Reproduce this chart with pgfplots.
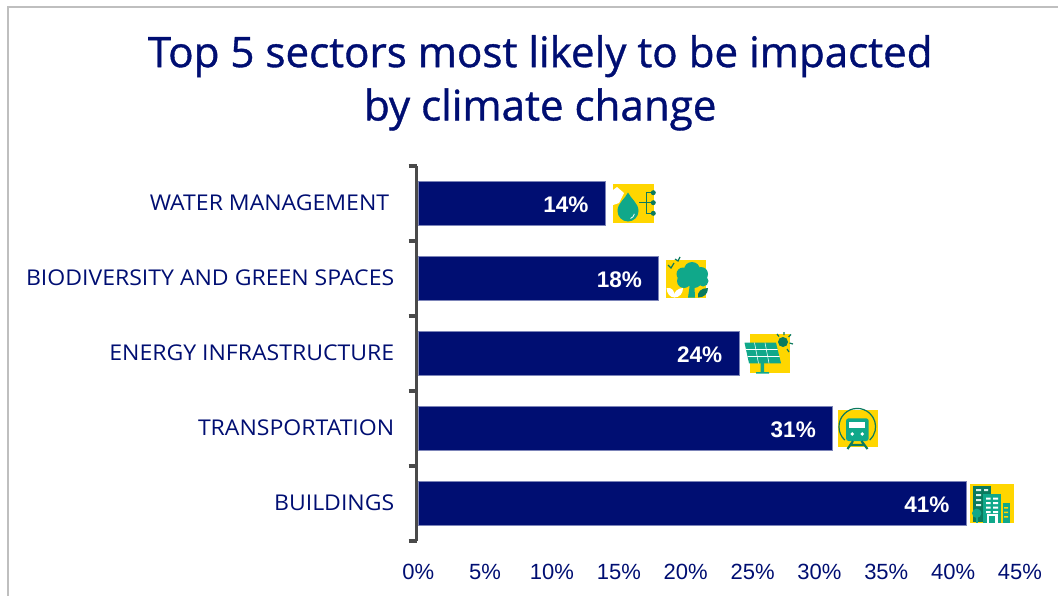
\documentclass[border=0pt]{standalone}
\usepackage{pgfplots}
\usepackage{fontspec}
\pgfplotsset{compat=1.18}
\setmainfont{Open Sans}
\newfontfamily\numfont{Liberation Sans}
\newfontfamily\titlefont[FakeBold=0.9]{Open Sans}
\newfontfamily\namefont[FakeStretch=1.06]{Open Sans}
\definecolor{navy}{HTML}{000E72}
\definecolor{baredge}{HTML}{7C84B8}
\definecolor{axisgray}{HTML}{4A4A4A}
\definecolor{framegray}{HTML}{BFBFBF}
\definecolor{iconyellow}{HTML}{FFD600}
\definecolor{iconteal}{HTML}{10A88A}
\definecolor{icondark}{HTML}{0B7A5E}

\pgfplotstableread{
pos share
1 41
2 31
3 24
4 18
5 14
}\sectors

\begin{document}
\begin{tikzpicture}
% page frame and bounding box, in pixel-sized units with y growing downward
\begin{scope}[x=0.75pt,y=-0.75pt]
  \path[use as bounding box] (0,0) rectangle (1058,596);
  \draw[framegray,line width=1.3pt] (8,596) -- (8,7) -- (1058,7);
\end{scope}

\begin{axis}[
  at={(313.7pt,-405.9pt)},anchor=south west,
  scale only axis,width=451.3pt,height=281.25pt,
  xmin=0,xmax=45,ymin=0.5,ymax=5.5,
  xbar,bar width=33pt,
  axis y line=left,axis x line=bottom,
  axis line style={-},
  x axis line style={draw=none},
  y axis line style={axisgray,line width=2.5pt,xshift=-1.2pt},
  clip=false,
  xtick={0,5,...,45},
  xticklabel={\pgfmathprintnumber{\tick}\%},
  /pgf/number format/assume math mode=true,
  xticklabel style={font=\numfont\fontsize{16.5}{18}\selectfont,text=navy,
    text height=12pt,text depth=0pt,yshift=-7.5pt},
  x tick style={draw=none},
  % tick marks sit on the category boundaries, the names on the bar centres
  ytick={0.5,1.5,2.5,3.5,4.5,5.5},
  yticklabels={},
  y tick style={draw=axisgray,line width=2.6pt,xshift=-1.2pt},
  major tick length=6pt,
  tick align=outside,
  extra y ticks={1,2,3,4,5},
  extra y tick labels={BUILDINGS,TRANSPORTATION,ENERGY INFRASTRUCTURE,BIODIVERSITY AND GREEN SPACES,WATER MANAGEMENT\hspace*{3.8pt}\null},
  extra y tick style={major tick length=0pt,
    yticklabel style={font=\namefont\fontsize{16.3}{18}\selectfont,text=navy,xshift=-14.5pt,yshift=0.8pt}},
  title={Top 5 sectors most likely to be impacted\\by climate change},
  title style={at={(rel axis cs:0.2027,1)},anchor=south,yshift=17.2pt,align=center,
    font=\titlefont\fontsize{31.6}{40}\selectfont,text=navy},
  nodes near coords={\pgfmathprintnumber{\pgfplotspointmeta}\%},
  point meta=x,
  nodes near coords style={anchor=east,xshift=-9pt,yshift=-0.6pt,text=white,
    font=\numfont\bfseries\fontsize{16.9}{18}\selectfont},
]
\addplot[fill=navy,draw=baredge,line width=0.8pt] table[x=share,y=pos]{\sectors};
\end{axis}

% sector pictograms beside the bar ends
\begin{scope}[x=0.75pt,y=-0.75pt]
  % water
  \fill[iconyellow] (613,184) rectangle (654,223);
  \fill[white] (613,190) -- (617,187) -- (624,193) -- (619,203) -- (613,205) -- cycle;
  \fill[iconteal] (628,192.5) .. controls (631,199) and (638.5,203) .. (638.5,211)
     arc[start angle=0,end angle=180,radius=10.5] .. controls (617.5,203) and (625,199) .. cycle;
  \draw[white,line width=0.6pt] (630.5,218.5) arc[start angle=70,end angle=10,radius=6];
  \draw[icondark,line width=1.1pt] (639,202.7) -- (653,202.7) (653,192.7) -- (646.7,192.7) -- (646.7,213.3) -- (653,213.3);
  \fill[icondark] (653.3,192.7) circle (2.5) (653.3,202.7) circle (2.5) (653.3,213.3) circle (2.5);
  % tree
  \fill[iconyellow] (666,260) rectangle (706,297.5);
  \fill[iconteal] (692,270) circle (8) (683,274) circle (6.5) (701,274) circle (7)
     (684,281) circle (7) (694,280) circle (8) (703,281) circle (5.5);
  \fill[iconteal] (689.5,287) -- (694.5,287) -- (695,297.5) -- (688,297.5) -- cycle;
  \fill[white] (666.5,288) .. controls (672,287) and (675,291) .. (675,297.5) .. controls (670,297.5) and (667,294) .. (666.5,288) -- cycle;
  \fill[white] (683,288) .. controls (678,288) and (673,292) .. (674,297.5) .. controls (680,297.5) and (683,293) .. (683,288) -- cycle;
  \fill[icondark] (708,288) .. controls (701,288) and (697,292) .. (698,297.5) .. controls (704,297.5) and (708,294) .. (708,288) -- cycle;
  \draw[icondark,line width=0.9pt] (668,265) -- (671,268) -- (674,263) (675,259) -- (678,261) -- (680,257);
  % solar panel
  \fill[iconyellow] (749.5,334) rectangle (789.5,372.5);
  \fill[iconteal] (760.5,363) rectangle (764,372) (756,372) rectangle (769,373.5);
  \fill[iconteal] (744.5,342.7) -- (776,342.7) -- (781,363.3) -- (749,363.3) -- cycle;
  \draw[white,line width=0.4pt] (746,349.5) -- (777.5,349.5) (747.5,356.5) -- (779.5,356.5)
     (754.5,342.7) -- (758.5,363.3) (765,342.7) -- (769,363.3);
  \fill[icondark] (783,342) circle (5);
  \draw[icondark,line width=0.9pt] (777,334) -- (779,336.5) (784,332) -- (784,335) (791,334.5) -- (788.5,337)
     (793,344) -- (789.5,343) (787,349) -- (789,352);
  % train
  \fill[iconyellow] (838,410) rectangle (877.5,447);
  \draw[icondark,line width=0.9pt] (844.8,440.1) arc[start angle=133,end angle=407,radius=18.3];
  \fill[iconteal,rounded corners=2pt] (846,418.3) rectangle (868.7,441);
  \fill[white] (849.3,421.7) rectangle (865.3,428.3);
  \fill[white] (852.3,434) circle (1.9) (862.3,434) circle (1.9);
  \draw[icondark,line width=1.6pt] (853,441) -- (847.5,449) (861.5,441) -- (867.5,449) (850,445) -- (865,445);
  % buildings
  \fill[iconyellow] (970,484) rectangle (1014,523);
  \fill[icondark] (973.3,486) rectangle (990.7,522);
  \fill[white!85!iconteal] (976,489) rectangle (981,491) (984,489) rectangle (988,491)
     (976,494) rectangle (981,496) (976,499) rectangle (981,501) (976,504) rectangle (981,506);
  \fill[iconteal] (983.3,494.3) rectangle (1000.7,522.5);
  \fill[white] (986,497.5) rectangle (990.5,499.5) (993,497.5) rectangle (998,499.5)
     (986,502) rectangle (990.5,504) (993,502) rectangle (998,504)
     (986,506.5) rectangle (990.5,508.5) (993,506.5) rectangle (998,508.5)
     (986,511) rectangle (990.5,513) (993,511) rectangle (998,513);
  \fill[white] (986.5,513.5) rectangle (997.5,522.5);
  \fill[iconteal] (989,515.5) rectangle (995,522.5);
  \fill[iconteal] (1002.7,503.3) rectangle (1009.5,522.5);
  \fill[iconyellow] (1004,507) rectangle (1008,508.5) (1004,511.5) rectangle (1008,513) (1004,516) rectangle (1008,517.5);
  \fill[iconteal] (976.7,513.3) circle (4.7);
  \fill[iconteal] (976,516) rectangle (977.5,522.5);
\end{scope}
\end{tikzpicture}
\end{document}
